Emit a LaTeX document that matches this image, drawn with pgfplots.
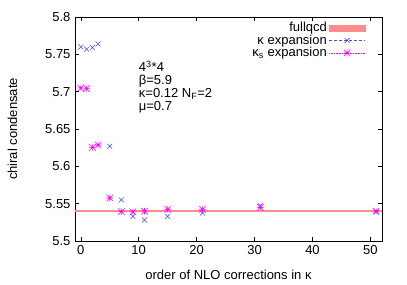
\documentclass[border=0pt]{standalone}
\usepackage{pgfplots}
\pgfplotsset{compat=1.18}
\usepackage{fontspec}
\setmainfont{Liberation Sans}
\definecolor{qcdred}{RGB}{255,140,140}
\definecolor{kblue}{RGB}{70,70,255}
\definecolor{kmag}{RGB}{255,0,255}
\pgfdeclareplotmark{gpstar}{%
  \pgfpathmoveto{\pgfqpoint{-\pgfplotmarksize}{0pt}}%
  \pgfpathlineto{\pgfqpoint{\pgfplotmarksize}{0pt}}%
  \pgfpathmoveto{\pgfqpoint{0pt}{-\pgfplotmarksize}}%
  \pgfpathlineto{\pgfqpoint{0pt}{\pgfplotmarksize}}%
  \pgfpathmoveto{\pgfqpoint{-\pgfplotmarksize}{-\pgfplotmarksize}}%
  \pgfpathlineto{\pgfqpoint{\pgfplotmarksize}{\pgfplotmarksize}}%
  \pgfpathmoveto{\pgfqpoint{-\pgfplotmarksize}{\pgfplotmarksize}}%
  \pgfpathlineto{\pgfqpoint{\pgfplotmarksize}{-\pgfplotmarksize}}%
  \pgfusepathqstroke}
\begin{document}
\fontsize{13bp}{14bp}\selectfont
\begin{tikzpicture}
\useasboundingbox (-75bp,-44bp) rectangle (332bp,241bp);
\begin{axis}[
  at={(0,0)}, anchor=south west,
  scale only axis, width=307bp, height=224bp,
  xmin=-1, xmax=52, ymin=5.5, ymax=5.8,
  xtick={0,10,20,30,40,50},
  ytick={5.5,5.55,5.6,5.65,5.7,5.75,5.8},
  tick align=inside, major tick length=4bp,
  tick style={black, line width=0.5bp},
  axis line style={black, line width=0.8bp},
  yticklabel style={/pgf/number format/.cd, fixed, precision=2, assume math mode=true},
  xticklabel style={/pgf/number format/assume math mode=true},
  tick label style={font=\fontsize{13bp}{14bp}\selectfont},
  label style={font=\fontsize{13bp}{14bp}\selectfont},
  xlabel={order of NLO corrections in κ},
  ylabel={chiral condensate},
  xlabel style={at={(axis description cs:0.5,-0.152)}, anchor=center},
  ylabel style={at={(axis description cs:-0.204,0.5)}, anchor=center},
  legend style={draw=none, fill=none, at={(axis description cs:0.95,0.99)}, anchor=north east,
    font=\fontsize{13bp}{13bp}\selectfont, row sep=-3bp, inner sep=1bp},
  legend cell align=right,
  legend plot pos=right,
]
\addplot[draw=qcdred, line width=2.6bp, forget plot] coordinates {(-1,5.54) (52,5.54)};
\addlegendimage{area legend, fill=qcdred, draw=qcdred, legend image code/.code={\fill[qcdred] (0bp,-3bp) rectangle (36bp,3bp);}}
\addlegendentry{fullqcd}
\addplot[only marks, mark=x, mark size=3.5bp, kblue, line width=0.55bp,
  legend image code/.code={\draw[kblue, densely dashed, line width=0.5bp] (0bp,0bp) -- (36bp,0bp); \draw[kblue, line width=0.55bp] plot[mark=x, mark size=3.5bp] coordinates {(18bp,0bp)};}]
  coordinates {
  (0,5.760) (1,5.757) (2,5.759) (3,5.764) (5,5.627) (7,5.555)
  (9,5.533) (11,5.528) (15,5.533) (21,5.5375) (31,5.547) (51,5.539)
  };
\addlegendentry{κ expansion}
\addplot[only marks, mark=gpstar, mark size=3.3bp, kmag, line width=0.55bp,
  legend image code/.code={\draw[kmag, densely dotted, line width=0.6bp] (0bp,0bp) -- (36bp,0bp); \draw[kmag, line width=0.55bp] plot[mark=gpstar, mark size=3.3bp] coordinates {(18bp,0bp)};}]
  coordinates {
  (0,5.705) (1,5.704) (2,5.6255) (3,5.6286) (5,5.5576) (7,5.5393)
  (9,5.539) (11,5.540) (15,5.5425) (21,5.5425) (31,5.545) (51,5.540)
  };
\addlegendentry{κ\textsubscript{s} expansion}
\node[anchor=north west, align=left, inner sep=0pt, font=\fontsize{13bp}{12.7bp}\selectfont]
  at (axis cs:10,5.741) {4\textsuperscript{3}*4\\β=5.9\\κ=0.12 N\textsubscript{F}=2\\μ=0.7};
\end{axis}
\end{tikzpicture}
\end{document}
